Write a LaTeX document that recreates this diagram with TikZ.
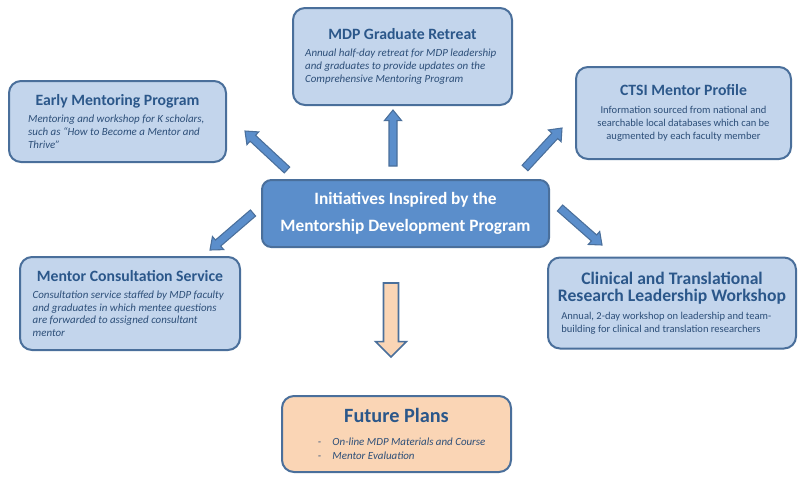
\documentclass[tikz,border=0pt]{standalone}
\usepackage{fontspec}
\setmainfont{Carlito}
\usetikzlibrary{calc, positioning}

\definecolor{boxfill}{HTML}{C3D5EC}
\definecolor{boxline}{HTML}{4A6F9B}
\definecolor{hubfill}{HTML}{5B8ECB}
\definecolor{titleblue}{HTML}{2B578A}
\definecolor{descblue}{HTML}{2C4E78}
\definecolor{peach}{HTML}{FAD5B5}

\newcommand{\boxtitle}[2][11.8]{{\fontsize{#1}{#1pt+3pt}\selectfont\bfseries\color{titleblue}#2}}
\newcommand{\boxdesc}[3][\raggedright]{\parbox[t]{#2}{#1\fontsize{8.2}{9.6}\selectfont\color{descblue}#3}}
\newcommand{\plaindesc}[3][\raggedright]{\parbox[t]{#2}{#1\fontsize{7.9}{9.8}\selectfont\color{descblue}#3}}
% block arrow: style, tail, tip, half shaft, half head, head length
\newcommand{\blockarr}[6]{%
  \coordinate (ba-n) at ($(#3)!#6!(#2)$);
  \draw[#1] ($(#2)!#4!90:(#3)$) -- ($(ba-n)!#4!90:(#3)$) -- ($(ba-n)!#5!90:(#3)$)
    -- (#3) -- ($(ba-n)!#5!-90:(#3)$) -- ($(ba-n)!#4!-90:(#3)$) -- ($(#2)!#4!-90:(#3)$) -- cycle;
}

\begin{document}
\begin{tikzpicture}[x=0.75pt, y=-0.75pt,
    initiative/.style={rectangle, rounded corners=9pt, draw=boxline, line width=1.5pt, fill=boxfill, inner sep=3pt, align=center},
    hub/.style={rectangle, rounded corners=7pt, draw=boxline, line width=1.5pt, fill=hubfill, text=white, font=\fontsize{13}{20.5}\selectfont\bfseries, align=center},
    plans/.style={initiative, fill=peach},
    bluearrow/.style={draw=boxline, fill=hubfill, line width=0.8pt, line join=miter},
    peacharrow/.style={draw=boxline, fill=peach, line width=1.2pt, line join=miter},
]
\useasboundingbox (0,0) rectangle (800,480);

% central program
\node[hub, minimum width=215.25pt, minimum height=50.25pt] (mdp) at (405.5,213.5)
  {Initiatives Inspired by the\\Mentorship Development Program};

% initiatives
\node[initiative, minimum width=162.75pt, minimum height=60.75pt] (early) at (117.5,121.5)
  {\boxtitle{Early Mentoring Program}\\[-5pt]
   \boxdesc{134pt}{\itshape Mentoring and workshop for K scholars,\\such as “How to Become a Mentor and\\Thrive”}};

\node[initiative, minimum width=164.25pt, minimum height=72.75pt] (retreat) at (402.5,56.5)
  {\boxtitle{MDP Graduate Retreat}\\[-5pt]
   \boxdesc{146pt}{\itshape Annual half-day retreat for MDP leadership\\and graduates to provide updates on the\\Comprehensive Mentoring Program}};

\node[initiative, minimum width=161.25pt, minimum height=69pt] (ctsi) at (683.5,113)
  {\boxtitle{CTSI Mentor Profile}\\[-4pt]
   \plaindesc[\centering]{142pt}{Information sourced from national and\\searchable local databases which can be\\augmented by each faculty member}};

\node[initiative, minimum width=165pt, minimum height=69.75pt] (consult) at (130,303.5)
  {\boxtitle{Mentor Consultation Service}\\[-5pt]
   \boxdesc{146pt}{\itshape Consultation service staffed by MDP faculty\\and graduates in which mentee questions\\are forwarded to assigned consultant\\mentor}};

\node[initiative, minimum width=186pt, minimum height=68.25pt] (clinical) at (672,303)
  {\boxtitle[13.2]{Clinical and Translational}\\[1pt]
   \boxtitle[13.2]{Research Leadership Workshop}\\[-4pt]
   \plaindesc{166pt}{Annual, 2-day workshop on leadership and team-\\building for clinical and translation researchers}};

% future plans
\node[plans, minimum width=171.75pt, minimum height=57pt] (future) at (396.5,434)
  {\boxtitle[15.2]{Future Plans}\\[-1pt]
   \boxdesc{150pt}{\itshape\hspace*{16pt}\makebox[11pt][l]{-}On-line MDP Materials and Course\\[1pt]
   \hspace*{16pt}\makebox[11pt][l]{-}Mentor Evaluation}};

% block arrows
\coordinate (upTail) at (393,166);
\coordinate (upTip) at (393,110);
\coordinate (ulTail) at (287,170);
\coordinate (ulTip) at (245,131);
\coordinate (urTail) at (525,168);
\coordinate (urTip) at (562,128);
\coordinate (llTail) at (253,213);
\coordinate (llTip) at (210,250);
\coordinate (lrTail) at (560,208);
\coordinate (lrTip) at (602,245);
\coordinate (dnTail) at (391,283);
\coordinate (dnTip) at (391,357);

\blockarr{bluearrow}{upTail}{upTip}{3pt}{6.5pt}{8pt}
\blockarr{bluearrow}{ulTail}{ulTip}{3pt}{6.5pt}{8pt}
\blockarr{bluearrow}{urTail}{urTip}{3pt}{6.5pt}{8pt}
\blockarr{bluearrow}{llTail}{llTip}{3pt}{6.5pt}{8pt}
\blockarr{bluearrow}{lrTail}{lrTip}{3pt}{6.5pt}{8pt}
\blockarr{peacharrow}{dnTail}{dnTip}{5.6pt}{11.5pt}{11.5pt}
\end{tikzpicture}
\end{document}
